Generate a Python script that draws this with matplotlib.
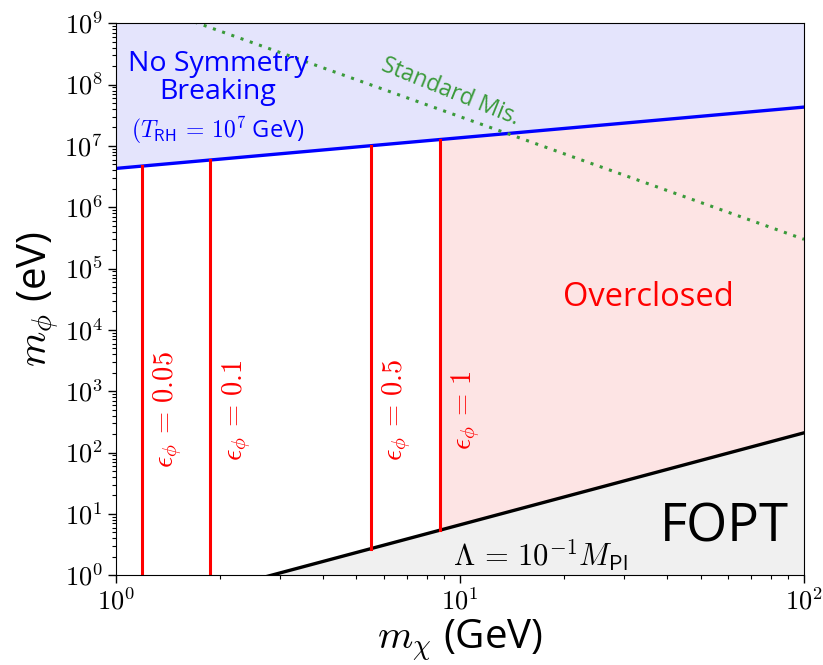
import numpy as np
import matplotlib
matplotlib.use("Agg")
import matplotlib.pyplot as plt
from matplotlib import ticker

plt.rcParams['mathtext.fontset'] = 'cm'
plt.rcParams['font.family'] = ['Open Sans', 'DejaVu Sans']

# Donnees
m_chi = np.logspace(0, 2, 200)          # GeV
x_min, x_max = 1.0, 100.0
y_min, y_max = 1.0, 1e9

# borne "pas de brisure de symetrie" (T_RH = 1e7 GeV)
tr_norm, tr_pente = 4.3e6, 0.5
# borne Lambda = 1e-1 M_Pl
lam_norm, lam_pente = 2.1e2, 1.5         # valeur a m_chi = 100 GeV
# ligne "Standard Mis."
mis_norm, mis_pente = 3.0e9, -2.0

eps_valeurs = ['0.05', '0.1', '0.5', '1']
eps_mchi = [1.19, 1.88, 5.5, 8.75]
eps_label_y = 5e2

borne_haute = tr_norm * m_chi**tr_pente
borne_basse = lam_norm * (m_chi / 100.0)**lam_pente
ligne_mis = mis_norm * m_chi**mis_pente

fig = plt.figure(figsize=(8.23, 6.65), dpi=100)
ax = fig.add_axes([0.141, 0.135, 0.836, 0.83])
ax.set_xscale('log')
ax.set_yscale('log')

# zones
ax.fill_between(m_chi, borne_haute, y_max, color='#e4e4fc', lw=0)
ax.fill_between(m_chi, y_min, np.maximum(borne_basse, y_min), color='#f0f0f0', lw=0)
masque = m_chi >= eps_mchi[-1]
ax.fill_between(m_chi[masque], borne_basse[masque], borne_haute[masque],
                color='#fde4e4', lw=0)

ax.plot(m_chi, borne_haute, color='blue', lw=2.4)
ax.plot(m_chi, borne_basse, color='black', lw=2.4)
ax.plot(m_chi, ligne_mis, color='#3a9a3a', lw=2.2, ls=(0, (1, 2.2)))

for val, xc in zip(eps_valeurs, eps_mchi):
    haut = tr_norm * xc**tr_pente
    bas = max(lam_norm * (xc / 100.0)**lam_pente, y_min)
    ax.plot([xc, xc], [bas, haut], color='red', lw=2.2)
    ax.text(xc * 1.19, eps_label_y, r'$\epsilon_\phi \,=\, %s$' % val, color='red',
            rotation=90, fontsize=20.5, ha='center', va='center')

# textes
ax.text(1.98, 1.3e8, 'No Symmetry\nBreaking', color='blue', fontsize=20.5,
        ha='center', va='center', linespacing=1.0)
ax.text(1.98, 1.8e7, r'$(T_{\mathsf{RH}} \,=\, 10^7$ GeV)', color='blue', fontsize=17,
        ha='center', va='center')
ax.text(9.35, 7.5e7, 'Standard Mis.', color='#3a9a3a', fontsize=16.5,
        rotation=-22, ha='center', va='center')
ax.text(35.2, 3.4e4, 'Overclosed', color='red', fontsize=23.5,
        ha='center', va='center')
ax.text(58.5, 6.0, 'FOPT', color='black', fontsize=38, ha='center', va='center')
ax.text(17.1, 2.1, r'$\Lambda \,=\, 10^{-1} M_{\mathsf{Pl}}$', color='black',
        fontsize=22, ha='center', va='center')

ax.set_xlim(x_min, x_max)
ax.set_ylim(y_min, y_max)
ax.set_xlabel(r'$m_\chi$ (GeV)', fontsize=29, labelpad=2)
ax.set_ylabel(r'$m_\phi$ (eV)', fontsize=29, labelpad=2)

puissance = ticker.FuncFormatter(lambda v, pos: r'$10^{%d}$' % round(np.log10(v)))
ax.xaxis.set_major_formatter(puissance)
ax.yaxis.set_major_formatter(puissance)
ax.yaxis.set_major_locator(ticker.LogLocator(base=10, numticks=20))
ax.yaxis.set_minor_locator(ticker.LogLocator(base=10, subs=np.arange(2, 10), numticks=20))
ax.xaxis.set_minor_formatter(ticker.NullFormatter())
ax.yaxis.set_minor_formatter(ticker.NullFormatter())
ax.tick_params(axis='both', which='major', labelsize=19, length=6, width=1)
ax.tick_params(axis='both', which='minor', length=3, width=0.8)

fig.savefig('out.png', dpi=100)
